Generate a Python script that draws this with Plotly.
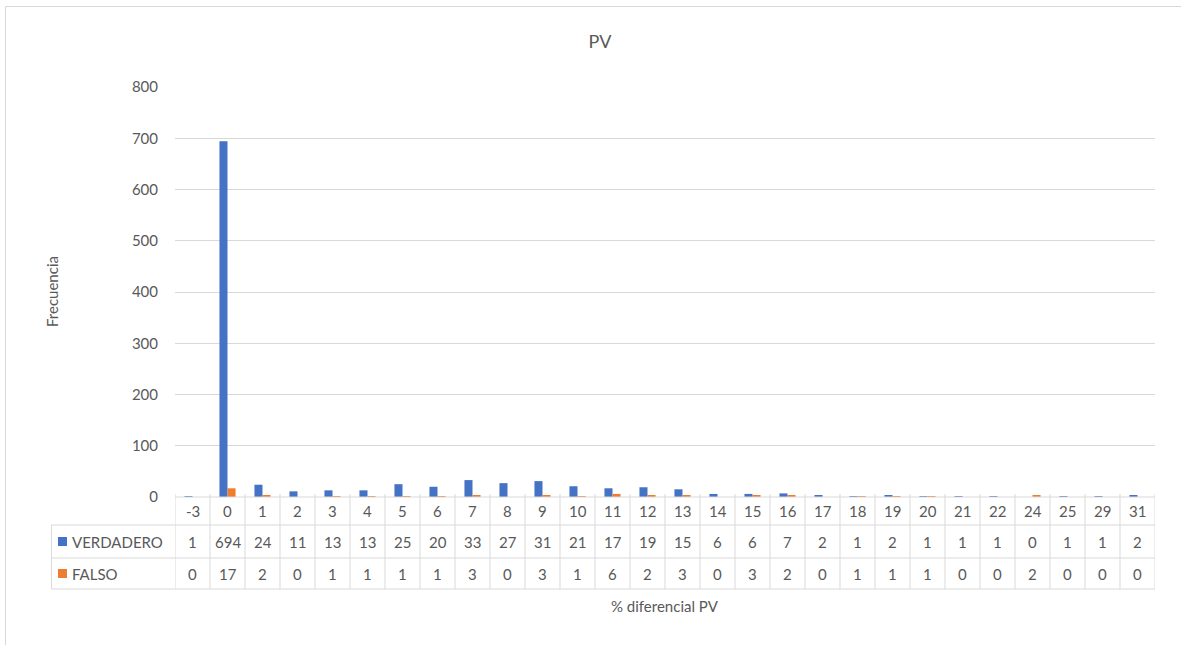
import plotly.graph_objects as go

categories = ["-3", "0", "1", "2", "3", "4", "5", "6", "7", "8", "9", "10", "11", "12",
              "13", "14", "15", "16", "17", "18", "19", "20", "21", "22", "24", "25", "29", "31"]
verdadero = [1, 694, 24, 11, 13, 13, 25, 20, 33, 27, 31, 21, 17, 19,
             15, 6, 6, 7, 2, 1, 2, 1, 1, 1, 0, 1, 1, 2]
falso = [0, 17, 2, 0, 1, 1, 1, 1, 3, 0, 3, 1, 6, 2,
         3, 0, 3, 2, 0, 1, 1, 1, 0, 0, 2, 0, 0, 0]
series_names = ["VERDADERO", "FALSO"]
colors = ["#4472C4", "#ED7D31"]

W, H = 1181, 645
L, R, T, B = 175, 1155, 87, 497
PW, PH = R - L, B - T
FONT = "Lato"
TXT = "#595959"
GRID = "#D9D9D9"


def px(x):
    return (x - L) / PW


def py(y):
    return (B - y) / PH


idx = list(range(len(categories)))
fig = go.Figure()
for name, vals, c in zip(series_names, [verdadero, falso], colors):
    fig.add_trace(go.Bar(x=idx, y=vals, name=name, marker=dict(color=c, line=dict(width=0))))

shapes = []
annotations = []
n = len(categories)
row_top, row1, row2, row_bot = 497, 525, 558, 589
for yy in [row1, row2, row_bot]:
    shapes.append(dict(type="line", xref="paper", yref="paper", x0=px(51.5), x1=px(R),
                       y0=py(yy), y1=py(yy), line=dict(color=GRID, width=1)))
shapes.append(dict(type="line", xref="paper", yref="paper", x0=0, x1=1,
                   y0=0, y1=0, line=dict(color=GRID, width=1)))
shapes.append(dict(type="line", xref="paper", yref="paper", x0=px(51.5), x1=px(51.5),
                   y0=py(row1), y1=py(row_bot), line=dict(color=GRID, width=1)))
for k in range(n + 1):
    shapes.append(dict(type="line", xref="x", yref="paper", x0=k - 0.5, x1=k - 0.5,
                       y0=py(row_top - 3), y1=py(row_bot), line=dict(color=GRID, width=1)))

tf = dict(size=15, color=TXT, family=FONT)
for i, cat in enumerate(categories):
    annotations.append(dict(x=i, y=py((row_top + row1) / 2), xref="x", yref="paper",
                            xanchor="center", yanchor="middle",
                            text=cat, showarrow=False, font=tf))
    for vals, (ya, yb) in zip([verdadero, falso], [(row1, row2), (row2, row_bot)]):
        annotations.append(dict(x=i, y=py((ya + yb) / 2), xref="x", yref="paper",
                                xanchor="center", yanchor="middle",
                                text=str(vals[i]), showarrow=False, font=tf))

for name, c, (ya, yb) in zip(series_names, colors, [(row1, row2), (row2, row_bot)]):
    yc = (ya + yb) / 2
    shapes.append(dict(type="rect", xref="paper", yref="paper", x0=px(58), x1=px(67),
                       y0=py(yc + 4.5), y1=py(yc - 4.5), fillcolor=c, line=dict(width=0)))
    annotations.append(dict(x=px(70), y=py(yc), xref="paper", yref="paper", text=name,
                            showarrow=False, xanchor="left", yanchor="middle", font=tf))

annotations.append(dict(x=px(52), y=py(292), xref="paper", yref="paper", text="Frecuencia",
                        textangle=-90, showarrow=False, xanchor="center", yanchor="middle",
                        font=tf))
annotations.append(dict(x=px(665), y=py(606), xref="paper", yref="paper", text="% diferencial PV",
                        showarrow=False, xanchor="center", yanchor="middle", font=tf))

# chart border (left and top visible)
shapes.append(dict(type="rect", xref="paper", yref="paper", x0=px(5.5), x1=px(1250),
                   y0=py(700), y1=py(6.5), line=dict(color=GRID, width=1),
                   fillcolor="rgba(0,0,0,0)"))

fig.update_layout(
    width=W, height=H,
    margin=dict(l=L, r=W - R, t=T, b=H - B, pad=0),
    paper_bgcolor="white", plot_bgcolor="white",
    showlegend=False,
    barmode="group", bargap=0.54, bargroupgap=0,
    title=dict(text="PV", x=600 / W, xanchor="center", y=1 - 42 / H,
               yanchor="middle", font=dict(size=18, color=TXT, family=FONT)),
    font=dict(family=FONT, color=TXT, size=15),
    xaxis=dict(range=[-0.5, n - 0.5], showticklabels=False, showgrid=False,
               zeroline=False, showline=False, ticks=""),
    yaxis=dict(range=[0, 800], dtick=100, showgrid=True, gridcolor=GRID, gridwidth=1,
               zeroline=False, showline=False, ticks="", ticklabelstandoff=16,
               tickfont=tf),
    shapes=shapes, annotations=annotations,
)

fig.write_html("out.html", config={"displayModeBar": False},
               post_script="document.body.style.margin='0';document.body.style.overflow='hidden';")
